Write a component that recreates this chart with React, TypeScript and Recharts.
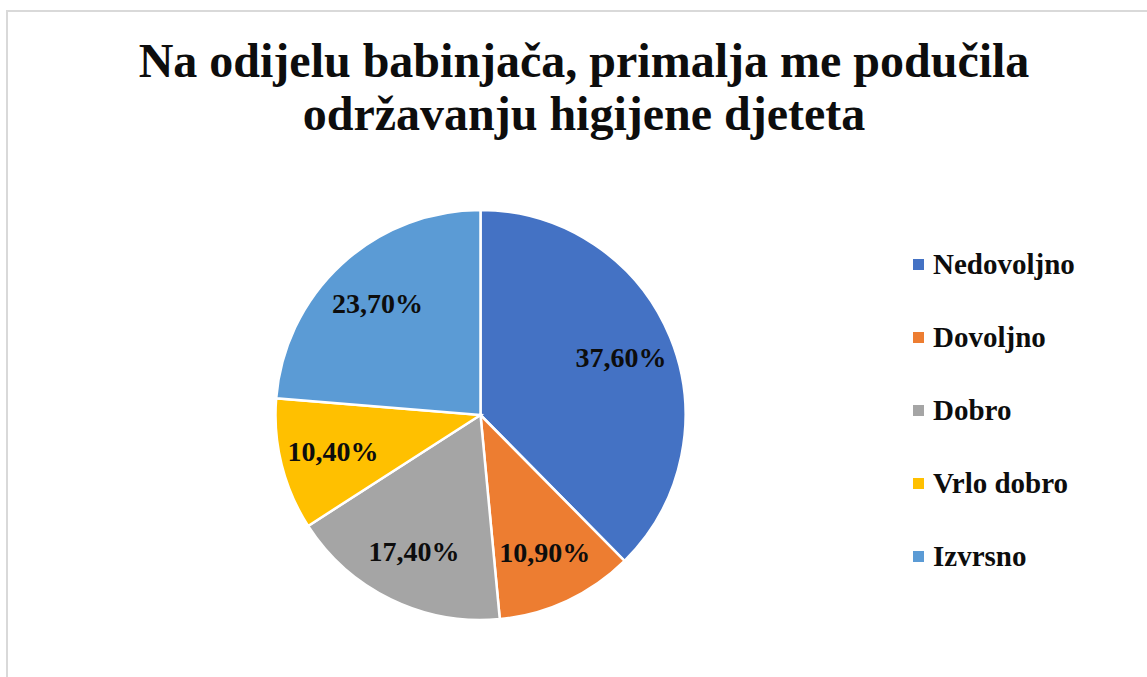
import React from 'react';
import { PieChart, Pie, Cell, Legend } from 'recharts';

const categories = ['Nedovoljno', 'Dovoljno', 'Dobro', 'Vrlo dobro', 'Izvrsno'];
const values = [37.6, 10.9, 17.4, 10.4, 23.7];
const colors = ['#4472C4', '#ED7D31', '#A5A5A5', '#FFC000', '#5B9BD5'];
const titleLines = ['Na odijelu babinjača, primalja me podučila', 'održavanju higijene djeteta'];

const data = categories.map((name, i) => ({ name, value: values[i] }));

const FONT = '"Liberation Serif", "Times New Roman", serif';
const RADIAN = Math.PI / 180;

const renderLabel = (props: any) => {
  const { cx, cy, midAngle, value } = props;
  const r = 152;
  const x = cx + r * Math.cos(-midAngle * RADIAN);
  const y = cy + r * Math.sin(-midAngle * RADIAN);
  return (
    <text
      x={x}
      y={y}
      textAnchor="middle"
      dominantBaseline="central"
      fill="#0d0d0d"
      fontFamily={FONT}
      fontWeight="bold"
      fontSize={28}
    >
      {value.toFixed(2).replace('.', ',') + '%'}
    </text>
  );
};

const renderLegend = () => (
  <div style={{ fontFamily: FONT }}>
    {categories.map((c, i) => (
      <div key={c} style={{ height: 73, display: 'flex', alignItems: 'center' }}>
        <div style={{ width: 11, height: 11, background: colors[i], marginRight: 9 }} />
        <span style={{ fontSize: 29, fontWeight: 'bold', color: '#0d0d0d', lineHeight: '73px' }}>{c}</span>
      </div>
    ))}
  </div>
);

export default function App() {
  return (
    <div style={{ position: 'absolute', left: 0, top: 0, width: 1147, height: 677, background: '#fff', overflow: 'hidden' }}>
      <div
        style={{
          position: 'absolute',
          left: 6,
          top: 10,
          width: 1200,
          height: 700,
          borderLeft: '2px solid #d9d9d9',
          borderTop: '2px solid #d9d9d9',
        }}
      />
      <div
        style={{
          position: 'absolute',
          left: 0,
          top: 34,
          width: 1168,
          textAlign: 'center',
          fontFamily: FONT,
          fontWeight: 'bold',
          fontSize: 48,
          lineHeight: '53px',
          color: '#0d0d0d',
          whiteSpace: 'nowrap',
        }}
      >
        {titleLines.map((t) => (
          <div key={t}>{t}</div>
        ))}
      </div>
      <div style={{ position: 'absolute', left: 0, top: 0 }}>
        <PieChart width={1147} height={677} margin={{ top: 0, right: 0, bottom: 0, left: 0 }}>
          <Pie
            data={data}
            dataKey="value"
            nameKey="name"
            cx={480.5}
            cy={415}
            outerRadius={205}
            startAngle={90}
            endAngle={-270}
            stroke="#ffffff"
            strokeWidth={2.5}
            label={renderLabel}
            labelLine={false}
            isAnimationActive={false}
          >
            {data.map((d, i) => (
              <Cell key={d.name} fill={colors[i]} />
            ))}
          </Pie>
          <Legend
            content={renderLegend}
            wrapperStyle={{ position: 'absolute', left: 913, top: 228, width: 230 }}
          />
        </PieChart>
      </div>
    </div>
  );
}
